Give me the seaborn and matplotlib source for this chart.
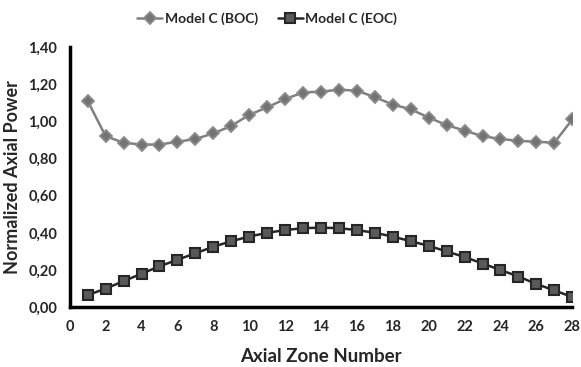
import numpy as np
import pandas as pd
import matplotlib
matplotlib.use("Agg")
import matplotlib.pyplot as plt
import seaborn as sns

zones = list(range(1, 29))
boc = [1.11, 0.92, 0.885, 0.875, 0.875, 0.89, 0.905, 0.935, 0.975, 1.035,
       1.075, 1.12, 1.155, 1.16, 1.17, 1.165, 1.13, 1.09, 1.065, 1.02,
       0.98, 0.95, 0.92, 0.905, 0.895, 0.89, 0.885, 1.01]
eoc = [0.065, 0.10, 0.14, 0.18, 0.22, 0.255, 0.29, 0.325, 0.355, 0.38,
       0.40, 0.415, 0.425, 0.428, 0.425, 0.415, 0.40, 0.38, 0.355, 0.33,
       0.30, 0.27, 0.235, 0.20, 0.165, 0.125, 0.09, 0.055]
series_names = ["Model C (BOC)", "Model C (EOC)"]

sns.set_style("white")
plt.rcParams["font.family"] = ["Lato", "DejaVu Sans"]
plt.rcParams["font.weight"] = "bold"

fig = plt.figure(figsize=(5.81, 3.67), dpi=100)
ax = fig.add_axes([0.12, 0.163, 0.865, 0.709])

sns.lineplot(x=zones, y=boc, color="#808080", marker="D", markersize=6.5,
             markerfacecolor="#737373", markeredgecolor="#8c8c8c", markeredgewidth=1.3,
             linewidth=1.8, label=series_names[0], ax=ax)
sns.lineplot(x=zones, y=eoc, color="#262626", marker="s", markersize=6.5,
             markerfacecolor="#595959", markeredgecolor="#262626", markeredgewidth=1.5,
             linewidth=1.8, label=series_names[1], ax=ax)

ax.set_xlim(0, 28)
ax.set_ylim(0, 1.4)
ax.set_xticks(range(0, 29, 2))
yt = np.arange(0, 1.41, 0.2)
ax.set_yticks(yt)
ax.set_yticklabels([f"{v:.2f}".replace(".", ",") for v in yt])
ax.tick_params(axis="both", labelsize=10.5, length=4, width=2, direction="out",
               color="black", pad=5)
for lab in ax.get_xticklabels() + ax.get_yticklabels():
    lab.set_fontweight("bold")
for s in ["top", "right"]:
    ax.spines[s].set_visible(False)
for s in ["left", "bottom"]:
    ax.spines[s].set_linewidth(2.5)
    ax.spines[s].set_color("black")

ax.set_xlabel("Axial Zone Number", fontsize=13.5, fontweight="bold", labelpad=10)
ax.set_ylabel("Normalized Axial Power", fontsize=13, fontweight="bold", labelpad=5)

handles, labels = ax.get_legend_handles_labels()
ax.get_legend().remove()
fig.legend(handles, labels, loc="center", bbox_to_anchor=(0.46, 0.95), ncol=2,
           frameon=False, fontsize=10, handlelength=1.8, columnspacing=1.4,
           handletextpad=0.2)

fig.savefig("out.png", dpi=100)
